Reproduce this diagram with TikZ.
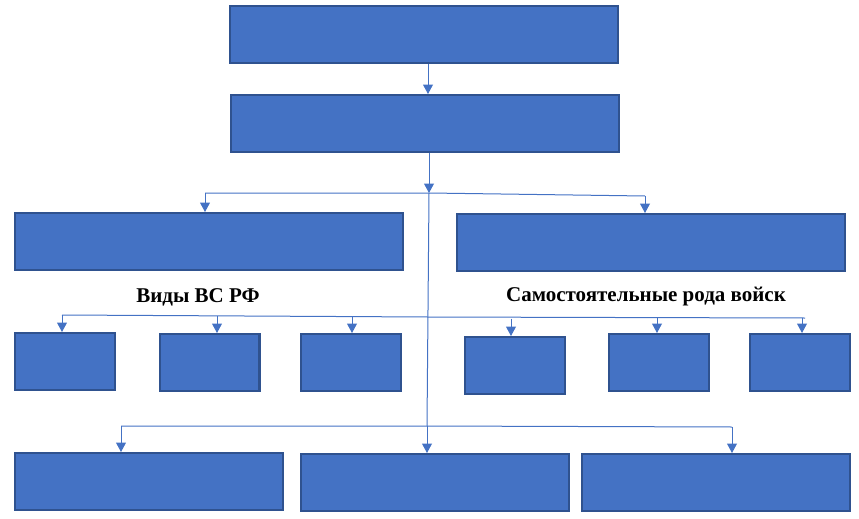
\documentclass[tikz,border=0pt]{standalone}
\usepackage{fontspec}
\setmainfont{Liberation Serif}
\usetikzlibrary{arrows.meta}
\definecolor{boxfill}{HTML}{4472C4}
\definecolor{boxline}{HTML}{2F528F}
\definecolor{linkblue}{HTML}{4472C4}
\begin{document}
\begin{tikzpicture}[x=1pt,y=-1pt,
  box/.style={draw=boxline, fill=boxfill, line width=2.4pt, inner sep=0pt, minimum height=56.6pt},
  wide/.style={box, minimum width=387.6pt},
  small/.style={box, minimum width=99.6pt},
  mid/.style={box, minimum width=267.6pt},
  conn/.style={draw=linkblue, line width=1pt},
  arr/.style={conn, -{Triangle[width=10pt,length=9.5pt]}},
  lbl/.style={font=\bfseries\fontsize{21}{25}\selectfont, inner sep=0pt}]
\useasboundingbox (0,0) rectangle (859,519);
% boxes
\node[wide] (b1) at (424,34.5) {};
\node[wide] (b2) at (425,123.5) {};
\node[wide] (b3) at (209,241.5) {};
\node[wide] (b4) at (651,242.5) {};
\node[small] (r1) at (65,361.5) {};
\node[small] (r2) at (209.5,362.5) {};
\node[small] (r3) at (351,362.5) {};
\node[small] (r4) at (515,365.5) {};
\node[small] (r5) at (659,362.5) {};
\node[small] (r6) at (800,362.5) {};
\node[mid] (c1) at (149,481.5) {};
\node[mid] (c2) at (435,482.5) {};
\node[mid] (c3) at (716,482.5) {};
% labels
\node[lbl] (l1) at (198,297) {Виды ВС РФ};
\node[lbl] (l2) at (646,297) {Самостоятельные рода войск};
% junctions
\coordinate (j1) at (429,193);
\coordinate (j2) at (428,317);
\coordinate (j3) at (427,426);
\coordinate (a3) at (205,193);
\coordinate (a4) at (645,196);
\coordinate (p1) at (62,315);
\coordinate (p2) at (217,316);
\coordinate (p3) at (352,316.5);
\coordinate (p4) at (511,318.5);
\coordinate (p5) at (657,318);
\coordinate (p6) at (805,318);
\coordinate (p6a) at (802,318);
\coordinate (q1) at (121,426);
\coordinate (q3) at (732,427);
% connectors
\draw[arr] (b1.south -| 428,0) -- (b2.north -| 428,0);
\draw[arr] (b2.south -| 429,0) -- (j1);
\draw[conn] (j1) -- (j3);
\draw[conn] (a3) -- (j1) -- (a4);
\draw[arr] (a3) -- (a3 |- b3.north);
\draw[arr] (a4) -- (a4 |- b4.north);
\draw[conn] (p1) -- (j2) -- (p6);
\draw[arr] (p1) -- (p1 |- r1.north);
\draw[arr] (p2) -- (p2 |- r2.north);
\draw[arr] (p3) -- (p3 |- r3.north);
\draw[arr] (p4) -- (p4 |- r4.north);
\draw[arr] (p5) -- (p5 |- r5.north);
\draw[arr] (p6a) -- (p6a |- r6.north);
\draw[conn] (q1) -- (j3) -- (q3);
\draw[arr] (q1) -- (q1 |- c1.north);
\draw[arr] (j3) -- (j3 |- c2.north);
\draw[arr] (q3) -- (q3 |- c3.north);
\end{tikzpicture}
\end{document}
